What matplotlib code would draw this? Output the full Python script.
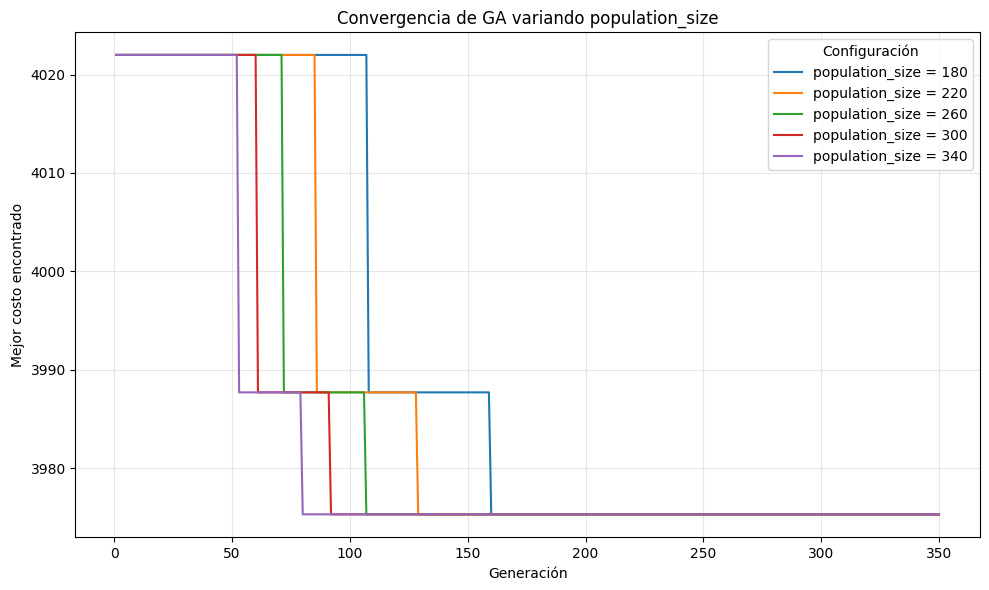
import numpy as np
import matplotlib
matplotlib.use('Agg')
import matplotlib.pyplot as plt

# GA convergence for several population sizes
population_sizes = [180, 220, 260, 300, 340]
# last generation at each cost level before the drop
first_drop = [107, 85, 71, 60, 52]
second_drop = [159, 128, 106, 91, 79]
cost_levels = [4022.0, 3987.7, 3975.3]
n_generations = 350


def main():
    gens = np.arange(1, n_generations + 1)
    fig, ax = plt.subplots(figsize=(9.89, 5.9), dpi=100)

    for size, d1, d2 in zip(population_sizes, first_drop, second_drop):
        best = np.where(gens <= d1, cost_levels[0],
                        np.where(gens <= d2, cost_levels[1], cost_levels[2]))
        ax.plot(gens, best, linewidth=1.5, label=f'population_size = {size}')

    ax.set_title('Convergencia de GA variando population_size')
    ax.set_xlabel('Generación')
    ax.set_ylabel('Mejor costo encontrado')
    ax.grid(True, alpha=0.3)
    ax.legend(title='Configuración', loc='upper right')

    fig.subplots_adjust(left=0.0763, right=0.991, top=0.9458, bottom=0.0893)
    fig.savefig('out.png')


if __name__ == '__main__':
    main()
